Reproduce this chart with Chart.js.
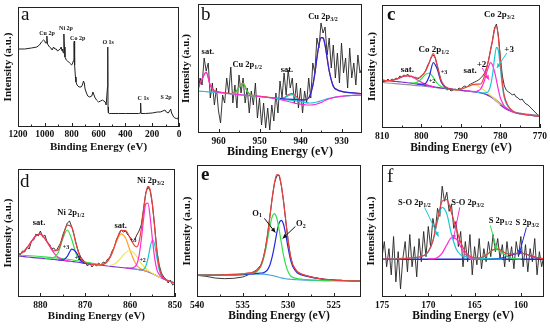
<!DOCTYPE html>
<html>
<head>
<meta charset="utf-8">
<script src="https://cdn.jsdelivr.net/npm/chart.js@4.4.1/dist/chart.umd.min.js"></script>
<style>
body { margin: 0; background: #fff; }
#fig { position: relative; width: 550px; height: 328px; overflow: hidden; background: #fff; }
#fig canvas { position: absolute; }
</style>
</head>
<body>
<div id="fig">
<canvas id="xps_a" width="185" height="160" style="left:0px;top:0px"></canvas>
<canvas id="xps_b" width="185" height="162" style="left:180px;top:0px"></canvas>
<canvas id="xps_c" width="185" height="160" style="left:365px;top:0px"></canvas>
<canvas id="xps_d" width="185" height="168" style="left:0px;top:160px"></canvas>
<canvas id="xps_e" width="185" height="168" style="left:180px;top:160px"></canvas>
<canvas id="xps_f" width="185" height="168" style="left:365px;top:160px"></canvas>
</div>
<script>
// ---- a : survey ----
var aEnergy = [1200,1150,1100,1060,1040,1025,1010,1000,995,990,985,980,965,955,945,935,925,915,905,895,885,878,872,868,862,858,854,850,840,830,815,800,792,788,783,780,778,772,768,760,745,730,720,712,706,700,690,680,665,650,642,636,628,615,600,585,570,560,550,543,537,533,531,529,526,520,500,450,400,350,300,290,287,285,283,280,250,200,160,140,120,105,95,80,70,62,55,40,30,20,10,0];
var aSurvey = [78,78,79,80,82,85,87,86,84,84,91,83,80,79,77,80,78,78,76,77,78,80,76,78,74,93,80,70,67,66,64,62,64,66,84,86,62,50,45,42,40,40,42,46,44,38,34,31,30,31,35,33,30,27,25,26,27,26,25,22,22,40,80,20,14,13.5,13.5,13.5,13.5,13.5,13.5,14,20,24,14,13.5,13.5,14,15,15,16,17,15,14,16,18,14,10,9,8.5,8,12];
var aTicks = [1200,1000,800,600,400,200,0];
var aMinor = [1100,900,700,500,300,100];
var aNotes = [['Cu 2p','',984,94],['Ni 2p','',842,99],['Co 2p','',755,89],['O 1s','',528,85],['C 1s','',267,29],['S 2p','',96,30]];

// ---- b : Cu 2p ----
var bRawStart = 965, bRawStep = 0.5;
var bRaw = [40,55,48,75,62,70,35,50,28,45,22,10,38,30,55,40,66,30,48,25,58,40,55,30,45,20,42,28,50,15,35,8,30,5,25,3,28,12,40,20,52,35,60,38,63,45,55,30,50,25,45,20,42,30,55,35,70,60,95,85,110,100,106,78,95,65,88,55,80,50,90,60,75,45,85,55,70,48,78,60,65];
var bBaseE = [965,964,963,962,961,960,959,958,957,956,955,954,953,952,951,950,949,948,947,946,945,944,943,942,941,940,939,938,937,936,935,934,933,932,931,930,929,928,927,926,925];
var bBase = [42,41.7,41.3,41,40.6,40.3,40,39.6,39.2,38.8,38.4,38,37.6,37.2,36.8,36.4,36,35.5,35,34.5,34,33.5,33,32.5,32,31.3,30.6,30,30.2,31,32.2,33.5,34.6,35.5,36.2,36.7,37.1,37.4,37.7,37.9,38];
var bSat = [44.6,53.8,60.7,47.5,41.6,40.8,40.2,39.6,39.2,38.8,38.4,38,37.6,37.2,36.8,36.4,36,35.5,35,34.5,33.5,32.5,31.5,30.5,29.5,28.8,28.3,28,28.2,29,30.5,32.5,34.2,35.3,36.2,36.7,37.1,37.4,37.7,37.9,38];
var bHalfE = [957,956,955,954,953,952,951];
var bHalf = [39.2,39.8,45.7,49.6,41.5,37.5,36.8];
var bSat2E = [946,945,944,943,942,941,940,939,938];
var bSat2 = [34.5,34.1,34.7,37.4,38.4,34.9,31.8,30.6,30];
var bMainE = [945,943,941,939,938,937,936.5,936,935.5,935,934.5,934,933.5,933,932,931,930,928,925];
var bMain = [34.5,33.8,33.3,33.1,35,47.5,59.6,74.8,88,95.4,95.1,87.5,74.8,62.1,46.8,43.1,41.7,40.4,39.5];
var bEnvE = [965,964,963,962,961,960,959,958,957,956,955,954,953,952,951,950,949,948,947,946,945,944,943,942,941,940,939,938,937,936.5,936,935.5,935,934.5,934,933.5,933,932,931,930,928,925];
var bEnv = [44.9,54.1,61,47.8,42.4,41.1,40.5,39.9,39.5,40.1,46,49.9,41.9,37.9,37.2,36.8,36.4,35.9,35.4,35,34.6,35.3,38.2,39.4,36.2,33.5,33.1,35,47.5,59.6,74.8,88,95.4,95.1,87.5,74.8,62.1,46.8,43.1,41.7,40.4,39.5];
var bTicks = [960,950,940,930];
var bMinor = [955,945,935];
var bNotes = [['sat.','',962.6,81],['Cu 2p','1/2',953,68],['sat.','',943.3,63],['Cu 2p','3/2',934.5,116]];

// ---- c : Co 2p ----
var cRawStart = 810, cRawStep = 0.5;
var cRaw = [48,46,47,49,47,49,48,50,49,52,51,53,52,54,51,52,50,51,49,50,52,54,57,62,66,71,73,70,62,54,47,43,40,38,39,37,38,39,38,40,39,41,42,41,43,44,45,46,47,48,50,52,55,60,68,78,88,100,104,92,70,52,42,38,36,35,33,34,31,30,28,29,26,24,23,21,19,17,15,13,12];
var cFitE = [810,809,808,807,806,805,804,803,802,801,800,799,798,797,796,795,794,793,792,791,790,789,788,787,786,785,784,783.5,783,782.5,782,781.5,781,780.5,780,779.5,779,778,777,776,775,774,773,772,771,770];
var cBase = [47.7,47.4,47.0,46.7,46.3,46.0,45.5,45.0,44.5,43.9,43.3,42.6,42.0,41.3,40.7,40.0,39.5,39.0,38.6,38.2,37.7,37.2,36.8,36.3,35.8,35.0,34.0,33.3,32.3,31.3,30.0,28.5,26.7,25.0,23.0,21.5,20.0,17.7,16.2,15.0,14.3,13.7,13.2,12.7,12.2,11.7];
var cEnv = [47.7,47.4,47.5,48.2,49.3,51.0,52.0,52.0,51.0,49.9,52.3,56.6,65.5,74.3,62.7,47.5,41.5,39.5,38.6,38.2,38.7,40.2,41.8,43.3,43.8,44.0,52.6,60.0,67.7,77.8,87.0,98.2,102.2,90.0,67.0,45.5,32.0,22.0,17.3,15.0,14.3,13.7,13.2,12.7,12.2,11.7];
var cGrayE = [810,800,790,785,782,780,778,775,770];
var cGray = [45.5,42,37.5,35.5,31,24.5,18.5,14.8,12.5];
var cCo3E = [786,785,784,783.5,783,782.5,782,781.5,781,780.5,780,779.5,779,778,777,776,775,774,772,770];
var cCo3 = [35.8,35.0,35.1,35.5,36.7,42.3,53,69.5,80.7,77,60,41.5,30,21,17.3,15,14.3,13.7,12.7,11.7];
var cCo2E = [789,788,787,786,785,784,783.5,783,782.5,782,781.5,781,780.5,780,779.5,779,778,777,775,773,770];
var cCo2 = [37.2,36.8,36.3,36.8,39,48,55.3,61.3,65.3,63,56.5,47.7,38,30,25.5,22,18.7,16.2,14.3,13.2,11.7];
var cSatE = [792,791,790,789,788,787,786,785,784,783,782,781,780];
var cSat = [38.6,38.2,38.7,40.2,41.8,43.3,42.8,40,37.5,34.3,31,27.2,23];
var cHalf3E = [801,800,799,798,797,796,795,794,793,792];
var cHalf3 = [43.9,43.8,44.6,52,65.3,58.7,46,41,39.5,38.6];
var cHalf2E = [803,802,801,800,799,798,797,796,795,794,793];
var cHalf2 = [45,45,45.9,49.3,53.6,55,50.3,44.7,41.5,40,39];
var cSat2E = [810,809,808,807,806,805,804,803,802,801,800,799,798,797];
var cSat2 = [47.7,47.4,47.5,48.2,49.3,51,52,52,50.5,47.9,45.8,43.6,42.5,41.3];
var cTicks = [810,800,790,780,770];
var cMinor = [805,795,785,775];
var cNotes = [['sat.','',803.6,58],['Co 2p','1/2',796.9,78],['sat.','',787.7,57],['Co 2p','3/2',780.3,113],['+2','',784.8,63],['+3','',777.8,78],['+3','',794.3,56,6],['+2','',797.3,47,6]];
var cArrows = [[784.6,60,782.9,48.3,'#ff2bd6'],[778.4,75,780.9,60,'#19c9d4']];

// ---- d : Ni 2p ----
var dRawStart = 885, dRawStep = 0.5;
var dRaw = [44,42,46,45,50,48,56,57,63,61,66,60,62,55,53,48,49,46,50,54,62,68,74,76,70,62,53,45,40,37,35,31,34,30,33,31,34,32,35,34,38,40,46,50,58,62,67,65,66,62,60,55,57,62,66,72,88,104,110,106,92,70,46,32,24,20,18,14,17,12,14];
var dFitE = [885,884,883,882,881,880,879,878,877,876,875,874,873,872,871,870,869,868,867,866,865,864,863,862,861,860,859,858.5,858,857.5,857,856.5,856,855.5,855,854.5,854,853.5,853,852,851,850];
var dBase = [41,40.5,40,39.6,39.2,38.8,38.4,38,37.5,37,36.5,36,35.5,35,34.3,33.5,33,32.5,32,31.5,31,30.5,30,29.5,29,28.5,28,27.7,27.3,27,26.5,26,25.2,24.3,23.3,22.2,21,20,19,17,15.5,14];
var dEnv = [42.3,44.5,49,55.6,61.2,62.8,58.4,51.8,46.2,47.3,59.8,71.8,69.8,52.3,38.5,34.5,33,32.5,32,32.6,35.9,44,56.9,66.7,66.5,59,51.4,50.2,55.2,68,86.3,103,110.6,106.9,92.2,69.3,45.5,29.9,22,17.4,15.5,14];
var dTopE = [885,880,875,870,866];
var dTop = [42,40.5,38.5,35,32];
var dSatE = [885,884,883,882,881,880,879,878,877,876,875,874,873];
var dSat = [42.3,44.5,49,55.6,61.2,62.8,58.4,51,44.2,39.6,37.3,36.2,35.5];
var dHalf3E = [879,878,877,876,875,874,873,872,871,870,869];
var dHalf3 = [38.4,38.8,39.5,44.7,58.5,67,57.5,42.7,36.3,34.3,33];
var dHalf2E = [876,875,874,873,872,871,870,869];
var dHalf2 = [37,37,40.6,47.8,44.6,36.5,33.7,33];
var dSat2E = [868,867,866,865,864,863,862,861,860,859,858.5,858,857.5,857,856.5,856];
var dSat2 = [32.5,32,32.6,35.6,43.7,55.7,63.2,59,46.5,35.4,31.7,29.3,27.9,26.9,26.2,25.2];
var dShE = [865,864,863,862,861,860,859,858.5,858,857.5,857,856.5,856,855.5,855,854,853];
var dSh = [31.3,32,34.5,39.2,44.4,46.5,43.4,40.4,37,33.8,31,28.7,26.7,25.1,23.7,21,19];
var dNi3E = [861,860,859,858.5,858,857.5,857,856.5,856,855.5,855,854.5,854,853.5,853,852,851,850];
var dNi3 = [29.2,29,30,32.7,41.2,57,77.3,93,93.8,79.1,57.3,38.7,27.2,22.5,20,17.3,15.5,14];
var dNi2E = [859,858,857.5,857,856.5,856,855.5,855,854.5,854,853.5,853,852,851,850];
var dNi2 = [28,27.3,27.2,27.6,30.6,38.5,50,57,52.2,39,27.4,21,17.1,15.5,14];
var dTicks = [880,870,860,850];
var dMinor = [885,875,865,855];
var dNotes = [['sat.','',880.3,74],['Ni 2p','1/2',873.2,84],['sat.','',862.1,71],['Ni 2p','3/2',855.4,116],['+3','',874.3,50,6],['+2','',871.7,39,6],['+3','',859.3,57,6],['+2','',857.2,37,6]];

// ---- e : O 1s ----
var eFitE = [540,539,538,537,536,535,534.5,534,533.5,533,532.75,532.5,532.25,532,531.75,531.5,531.25,531,530.75,530.5,530.25,530,529.75,529.5,529,528.5,528,527,526,525,524,523,522];
var eRaw = [21.5,20.5,18.8,18.2,18.5,19.8,21.5,24,26.5,31.5,38,48,62,80,98,113,120,121,111,95,75,56,41,32,25,22.5,21,19,17.5,16.8,16.4,16.1,16];
var eBase = [21.7,21.7,21.8,21.9,22,22.2,22.4,22.6,22.8,22.8,22.7,22.5,22.2,21.8,21.3,20.8,20.2,19.6,19,18.5,18.1,17.8,17.6,17.4,17.1,16.9,16.7,16.5,16.3,16.2,16.1,16,16];
var eO1 = [21.7,21.7,21.8,22.1,22.4,22.9,23.4,23.9,24.9,30,36.3,45.3,57.4,69.8,79.5,82.8,78.4,67.6,54.2,41.3,31.7,25,21.1,19.5,18.3,17.7,17.2,16.7,16.3,16.2,16.1,16,16];
var eO2 = [21.7,21.7,21.8,21.9,22,22.2,22.7,23,23.4,23.8,24,25,27.2,31.8,39.8,50.8,63.2,73.1,76,72,61.6,48.8,37.6,30.4,24.1,21.9,20.7,18.7,17.5,16.8,16.4,16.1,16];
var eEnv = [21.7,21.7,21.8,22.1,22.4,22.9,23.7,24.3,25.5,31,37.6,47.8,62.4,79.8,98,112.8,121.4,121.1,111.2,94.8,75.2,56,41.1,32.5,25.3,22.7,21.2,18.9,17.5,16.8,16.4,16.1,16];
var eTicks = [540,535,530,525];
var eMinor = [537.5,532.5,527.5];
var eNotes = [['O','1',533.4,83],['O','2',528.6,73]];
var eArrows = [[532.6,78,531.4,64,'#111'],[529.2,70,530.6,58,'#111']];

// ---- f : S 2p ----
var fRawStart = 175, fRawStep = 0.25;
var fRaw = [40,55,30,48,22,60,15,45,8,38,55,25,62,30,50,20,58,35,65,40,70,50,78,65,88,80,110,95,104,85,92,68,75,50,65,30,55,35,62,22,50,32,58,28,48,35,55,40,62,45,58,38,52,30,55,35,50,28,55,40,60,30,52,25,48,35,58,22,45,30,42];
var fFitE = [175,174.5,174,173.5,173,172.5,172,171.5,171,170.5,170,169.5,169,168.5,168,167.5,167,166.5,166,165.5,165,164.5,164,163.5,163,162.5,162,161.5,161,160.5,160,159.5,159,158.5,158,157.5];
var fEnv = [37.5,37.5,37.5,37.7,37.9,38.2,38.5,39,39.7,41.1,45.1,55.8,77.2,95.1,96.7,83.7,68.3,54.3,44.9,40.5,39.1,38.9,40.2,43.3,46.9,47.7,45.4,43,42.6,43.3,43.5,42.7,41.1,39.6,38.5,37.9];
var fBaseE = [175,157.5];
var fBase = [37.5,37.5];
var fSO1E = [174,173,172,171.5,171,170.5,170,169.5,169,168.5,168,167.5,167,166.5,166,165.5,165,164,163,162];
var fSO1 = [37.9,38.3,38.5,39,39.7,41.1,44.8,55.5,75.5,89,82.5,62.5,48,41.8,40,39.3,38.7,38,37.7,37.6];
var fSO3E = [170,169.5,169,168.5,168,167.5,167,166.5,166,165.5,165,164.5,164];
var fSO3 = [37.8,37.8,39.2,43.6,51.7,58.7,57.8,50,42.4,38.7,37.7,37.5,37.5];
var fS1E = [165.5,165,164.5,164,163.5,163,162.5,162,161.5,161,160.5,160];
var fS1 = [37.5,37.7,38.1,39.7,43.2,46.7,47.1,44,40.3,38.3,37.7,37.5];
var fS3E = [163.5,163,162.5,162,161.5,161,160.5,160,159.5,159,158.5,158,157.5];
var fS3 = [37.5,37.7,38.1,38.9,40.2,41.8,43.1,43.5,42.7,41.1,39.6,38.5,37.9];
var fTicks = [175,170,165,160];
var fMinor = [172.5,167.5,162.5];
var fNotes = [['S-O 2p','1/2',171.5,93],['S-O 2p','3/2',165.75,93],['S 2p','1/2',162.2,76],['S 2p','3/2',159.3,74]];
var fArrows = [[170.4,89,168.9,60,'#19c9d4'],[166.6,89,167.3,57,'#ff2bd6'],[163.3,71,162.6,47,'#2fe04a'],[159.4,69,160.2,42,'#1f2be0']];

var serif = "'Liberation Serif', 'Times New Roman', serif";
var RED = '#ec3f3f', MAG = '#ff2bd6', GRN = '#2fe04a', BLU = '#1f2be0', CYA = '#19c9d4',
    PUR = '#7a2fd0', YEL = '#f0e45a', ORA = '#ffa030', LBL = '#4aa8e0', GRY = '#9a8f9a';

function pts(xs, ys) {
    var res = [];
    for (var i = 0; i < ys.length; i++) {
        res.push({x: xs[i], y: ys[i]});
    }
    return res;
}

// x grid for evenly sampled raw spectra
function grid(start, step, n) {
    var res = [];
    for (var i = 0; i < n; i++) {
        res.push(start - i * step);
    }
    return res;
}

function fit(xs, ys, color, w) {
    return {data: pts(xs, ys), borderColor: color, borderWidth: w || 1.2, pointRadius: 0,
        fill: false, cubicInterpolationMode: 'monotone'};
}

function raw(xs, ys, w) {
    return {data: pts(xs, ys), borderColor: '#222', borderWidth: w || 0.9, pointRadius: 0,
        fill: false, tension: 0};
}

function make_decor(cfg) {
    return {
        id: 'decor',
        afterDatasetsDraw: function (chart) {
            var ctx = chart.ctx, a = chart.chartArea, sx = chart.scales.x, sy = chart.scales.y;
            ctx.save();
            ctx.strokeStyle = '#222';
            ctx.lineWidth = 1;
            var l = Math.round(a.left), t = Math.round(a.top), r = Math.round(a.right), b = Math.round(a.bottom);
            ctx.strokeRect(l + 0.5, t + 0.5, r - l - 1, b - t - 1);

            // inward tick marks on the bottom axis
            ctx.beginPath();
            cfg.ticks.forEach(function (v) {
                var px = Math.round(sx.getPixelForValue(v)) + 0.5;
                ctx.moveTo(px, b);
                ctx.lineTo(px, b - 4);
            });
            cfg.minor.forEach(function (v) {
                var px = Math.round(sx.getPixelForValue(v)) + 0.5;
                ctx.moveTo(px, b);
                ctx.lineTo(px, b - 2.5);
            });
            ctx.stroke();

            // panel letter
            ctx.fillStyle = '#111';
            ctx.textAlign = 'left';
            ctx.textBaseline = 'alphabetic';
            ctx.font = (cfg.bold ? 'bold ' : '') + '19px ' + serif;
            ctx.fillText(cfg.letter, l + cfg.lx, t + cfg.ly);

            (cfg.arrows || []).forEach(function (ar) {
                var x1 = sx.getPixelForValue(ar[0]), y1 = sy.getPixelForValue(ar[1]);
                var x2 = sx.getPixelForValue(ar[2]), y2 = sy.getPixelForValue(ar[3]);
                var ang = Math.atan2(y2 - y1, x2 - x1);
                ctx.strokeStyle = ar[4];
                ctx.fillStyle = ar[4];
                ctx.lineWidth = 1;
                ctx.beginPath();
                ctx.moveTo(x1, y1);
                ctx.lineTo(x2, y2);
                ctx.stroke();
                ctx.beginPath();
                ctx.moveTo(x2, y2);
                ctx.lineTo(x2 - 5 * Math.cos(ang - 0.45), y2 - 5 * Math.sin(ang - 0.45));
                ctx.lineTo(x2 - 5 * Math.cos(ang + 0.45), y2 - 5 * Math.sin(ang + 0.45));
                ctx.closePath();
                ctx.fill();
            });

            // peak labels, with optional subscript
            ctx.fillStyle = '#111';
            ctx.textBaseline = 'middle';
            (cfg.notes || []).forEach(function (n) {
                var size = n[4] || cfg.noteSize;
                var sub = Math.round(size * 0.68);
                var px = sx.getPixelForValue(n[2]), py = sy.getPixelForValue(n[3]);
                ctx.font = 'bold ' + size + 'px ' + serif;
                var w1 = ctx.measureText(n[0]).width;
                ctx.font = 'bold ' + sub + 'px ' + serif;
                var w2 = n[1] ? ctx.measureText(n[1]).width : 0;
                var x0 = px - (w1 + w2) / 2;
                ctx.font = 'bold ' + size + 'px ' + serif;
                ctx.fillText(n[0], x0, py);
                if (n[1]) {
                    ctx.font = 'bold ' + sub + 'px ' + serif;
                    ctx.fillText(n[1], x0 + w1, py + size * 0.3);
                }
            });
            ctx.restore();
        }
    };
}

function build_panel(id, sets, o) {
    var ctx = document.getElementById(id);
    return new Chart(ctx, {
        type: 'line',
        data: {datasets: sets},
        options: {
            responsive: false,
            animation: false,
            devicePixelRatio: 1,
            events: [],
            layout: {padding: {left: 0, top: o.top, right: o.right, bottom: 0}},
            plugins: {legend: {display: false}, tooltip: {enabled: false}},
            scales: {
                x: {
                    type: 'linear',
                    reverse: true,
                    min: o.lo,
                    max: o.hi,
                    afterBuildTicks: function (s) {
                        s.ticks = o.ticks.map(function (v) { return {value: v}; });
                    },
                    ticks: {
                        color: '#111',
                        padding: o.tp,
                        maxRotation: 0,
                        autoSkip: false,
                        font: {family: serif, size: 9.5, weight: 'bold'},
                        callback: function (v) { return String(v); }
                    },
                    grid: {display: false, drawTicks: false},
                    border: {display: false},
                    title: {
                        display: true,
                        text: 'Binding Energy (eV)',
                        color: '#111',
                        font: {family: serif, size: o.ts, weight: 'bold'},
                        padding: {top: 0, bottom: o.tb}
                    },
                    afterFit: function (s) { s.height = o.xh; }
                },
                y: {
                    min: 0,
                    max: o.ymax,
                    ticks: {display: false},
                    grid: {display: false, drawTicks: false},
                    border: {display: false},
                    title: {
                        display: true,
                        text: 'Intensity (a.u.)',
                        color: '#111',
                        font: {family: serif, size: 11, weight: 'bold'},
                        padding: {top: o.yp, bottom: 0}
                    },
                    afterFit: function (s) { s.width = o.yw; }
                }
            }
        },
        plugins: [make_decor(o)]
    });
}

build_panel('xps_a', [
    raw(aEnergy, aSurvey, 1)
], {lo: 0, hi: 1200, ymax: 120, ticks: aTicks, minor: aMinor, top: 7, right: 6, yw: 18, yp: 2,
    xh: 33, tp: 2, tb: 6, ts: 11, letter: 'a', bold: false, lx: 3, ly: 13, notes: aNotes, noteSize: 6});

build_panel('xps_b', [
    fit(bMainE, bMain, BLU),
    fit(bHalfE, bHalf, GRN),
    fit(bSat2E, bSat2, CYA),
    fit(bBaseE, bSat, MAG),
    fit(bEnvE, bEnv, RED),
    fit(bBaseE, bBase, CYA),
    raw(grid(bRawStart, bRawStep, bRaw.length), bRaw)
], {lo: 925, hi: 965, ymax: 129, ticks: bTicks, minor: bMinor, top: 4, right: 3, yw: 18, yp: 0,
    xh: 29, tp: 3, tb: 3, ts: 12, letter: 'b', bold: false, lx: 3, ly: 16, notes: bNotes, noteSize: 8.5});

build_panel('xps_c', [
    fit(cFitE, cEnv, RED),
    fit(cCo3E, cCo3, CYA),
    fit(cCo2E, cCo2, MAG),
    fit(cHalf3E, cHalf3, BLU),
    fit(cHalf2E, cHalf2, GRN),
    fit(cSat2E, cSat2, MAG),
    fit(cSatE, cSat, YEL),
    fit(cFitE, cBase, PUR),
    fit(cGrayE, cGray, GRY),
    raw(grid(cRawStart, cRawStep, cRaw.length), cRaw)
], {lo: 770, hi: 810, ymax: 123, ticks: cTicks, minor: cMinor, top: 5, right: 9, yw: 17, yp: 1,
    xh: 32, tp: 3, tb: 5, ts: 11.5, letter: 'c', bold: true, lx: 5, ly: 15, notes: cNotes, noteSize: 9, arrows: cArrows});

build_panel('xps_d', [
    fit(dFitE, dEnv, RED),
    fit(dNi3E, dNi3, MAG),
    fit(dNi2E, dNi2, CYA),
    fit(dShE, dSh, YEL),
    fit(dSat2E, dSat2, ORA),
    fit(dHalf2E, dHalf2, BLU),
    fit(dHalf3E, dHalf3, GRN),
    fit(dSatE, dSat, MAG),
    fit(dFitE, dBase, PUR),
    fit(dTopE, dTop, GRN),
    raw(grid(dRawStart, dRawStep, dRaw.length), dRaw)
], {lo: 850, hi: 885, ymax: 128, ticks: dTicks, minor: dMinor, top: 9, right: 9, yw: 18, yp: 2,
    xh: 31, tp: 3, tb: 5, ts: 11, letter: 'd', bold: false, lx: 2, ly: 18, notes: dNotes, noteSize: 8.5});

build_panel('xps_e', [
    fit(eFitE, eEnv, RED),
    fit(eFitE, eO1, GRN),
    fit(eFitE, eO2, BLU),
    fit(eFitE, eBase, LBL),
    raw(eFitE, eRaw)
], {lo: 522, hi: 540, ymax: 131, ticks: eTicks, minor: eMinor, top: 5, right: 4, yw: 17, yp: 1,
    xh: 31, tp: 3, tb: 5, ts: 11.5, letter: 'e', bold: true, lx: 4, ly: 15, notes: eNotes, noteSize: 8.5, arrows: eArrows});

build_panel('xps_f', [
    fit(fFitE, fEnv, RED),
    fit(fSO1E, fSO1, CYA),
    fit(fSO3E, fSO3, MAG),
    fit(fS1E, fS1, GRN),
    fit(fS3E, fS3, BLU),
    fit(fBaseE, fBase, BLU, 1.5),
    raw(grid(fRawStart, fRawStep, fRaw.length), fRaw)
], {lo: 157.5, hi: 175, ymax: 131, ticks: fTicks, minor: fMinor, top: 5, right: 6, yw: 17, yp: 0,
    xh: 31, tp: 3, tb: 5, ts: 11.5, letter: 'f', bold: false, lx: 5, ly: 17, notes: fNotes, noteSize: 8.5, arrows: fArrows});
</script>
</body>
</html>
